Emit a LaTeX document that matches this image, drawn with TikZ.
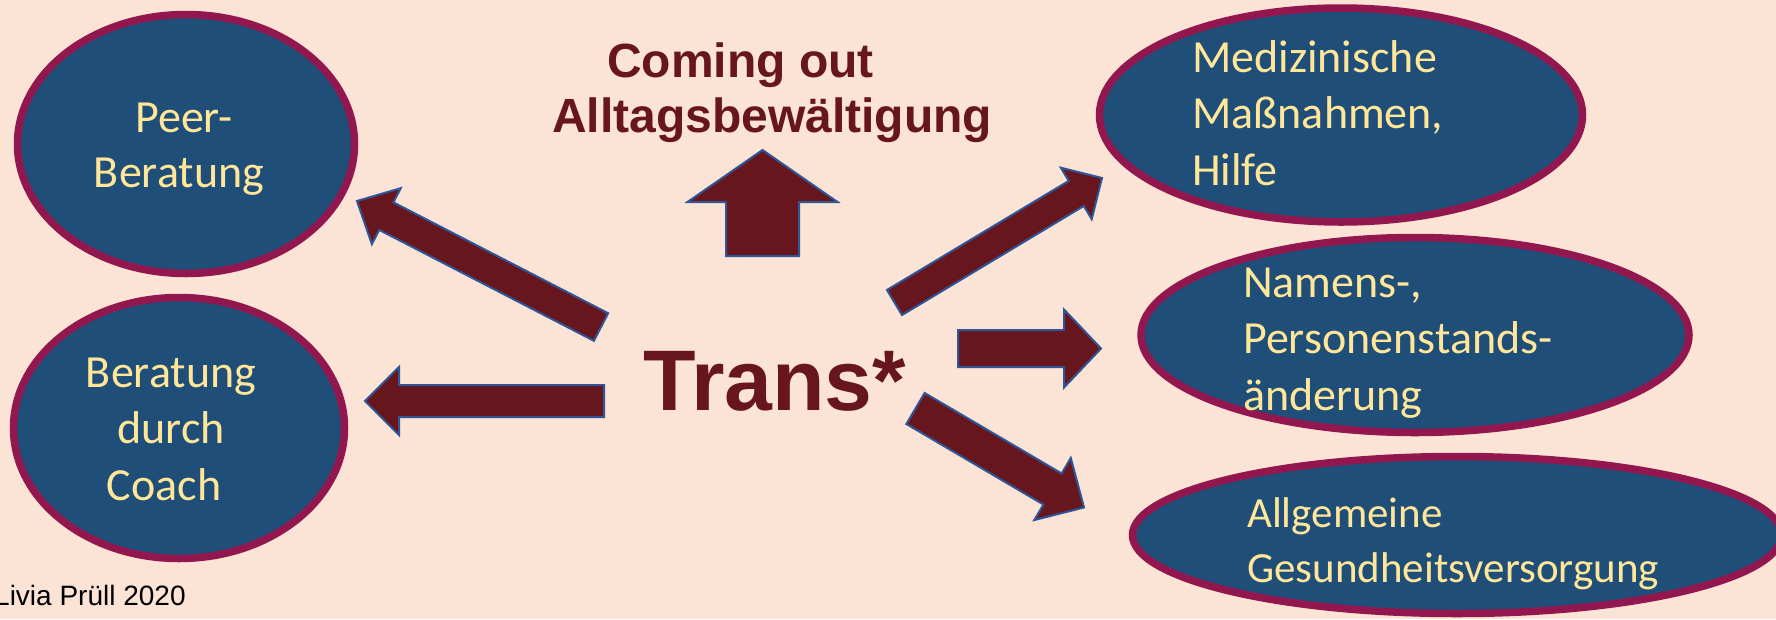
\documentclass[tikz,border=0pt]{standalone}
\usepackage{fontspec}
\setmainfont{Carlito}
\newfontfamily\arialfont{Liberation Sans}
\usetikzlibrary{shapes.geometric,calc}
\definecolor{bgpeach}{HTML}{FBE3D5}
\definecolor{bubfill}{HTML}{1F4E79}
\definecolor{bubborder}{HTML}{93174F}
\definecolor{bubtextcol}{HTML}{FFE699}
\definecolor{maroon}{HTML}{66161C}
\definecolor{arrline}{HTML}{2F5597}
\tikzset{
  bubble/.style={ellipse, draw=bubborder, line width=7.5pt, fill=bubfill, inner sep=0pt},
  bubtext/.style={font=\fontsize{46}{56}\selectfont, text=bubtextcol, inner sep=0pt},
  smalltext/.style={font=\fontsize{43}{55}\selectfont, text=bubtextcol, inner sep=0pt},
  titletext/.style={font=\arialfont\bfseries\fontsize{48}{55}\selectfont, text=maroon, inner sep=0pt, anchor=base west},
  blkarrow/.style={fill=maroon, draw=arrline, line width=2pt, line join=miter}
}
\newcommand{\blkarrow}[6]{% name, tail, tip, shaft half width, head half width, head length
  \coordinate (#1-t) at #2;
  \coordinate (#1-p) at #3;
  \coordinate (#1-h) at ($(#1-p)!#6pt!(#1-t)$);
  \path[blkarrow] ($(#1-t)!#4pt!90:(#1-p)$) -- ($(#1-h)!#4pt!90:(#1-p)$) -- ($(#1-h)!#5pt!90:(#1-p)$)
     -- (#1-p) -- ($(#1-h)!#5pt!-90:(#1-p)$) -- ($(#1-h)!#4pt!-90:(#1-p)$) -- ($(#1-t)!#4pt!-90:(#1-p)$) -- cycle;
}
\begin{document}
\begin{tikzpicture}[x=1pt,y=-1pt]
\fill[bgpeach] (0,0) rectangle (1776,619);
\useasboundingbox (0,0) rectangle (1776,619);

% ellipses
\node[bubble, minimum width=337pt, minimum height=259pt] (peer) at (186,144) {};
\node[bubble, minimum width=331pt, minimum height=261pt] (coach) at (179,428) {};
\node[bubble, minimum width=483pt, minimum height=214pt] (med) at (1341,115) {};
\node[bubble, minimum width=548pt, minimum height=195pt] (namen) at (1415,335) {};
\node[bubble, minimum width=649pt, minimum height=157pt] (allg) at (1457,535) {};

% ellipse texts
\node[bubtext, anchor=base] (peer1) at (184,132) {Peer-};
\node[bubtext, anchor=base] (peer2) at (179,187) {Beratung};
\node[bubtext, anchor=base] (coach1) at (171,387) {Beratung};
\node[bubtext, anchor=base] (coach2) at (171,443) {durch};
\node[bubtext, anchor=base] (coach3) at (164,500) {Coach};
\node[bubtext, anchor=base west] (med1) at (1192,72) {Medizinische};
\node[bubtext, anchor=base west] (med2) at (1192,128) {Maßnahmen,};
\node[bubtext, anchor=base west] (med3) at (1192,185) {Hilfe};
\node[bubtext, anchor=base west] (nam1) at (1243,297) {Namens-,};
\node[bubtext, anchor=base west] (nam2) at (1243,353) {Personenstands-};
\node[bubtext, anchor=base west] (nam3) at (1243,410) {änderung};
\node[smalltext, anchor=base west] (allg1) at (1247,527) {Allgemeine};
\node[smalltext, anchor=base west] (allg2) at (1247,582) {Gesundheitsversorgung};

% titles
\node[titletext] (come) at (607,77) {Coming out};
\node[titletext] (alltag) at (552,132) {Alltagsbewältigung};
\node[font=\arialfont\bfseries\fontsize{86}{90}\selectfont, text=maroon, inner sep=0pt, anchor=base west] (trans) at (643,410) {Trans*};
\node[font=\arialfont\fontsize{28}{32}\selectfont, text=black, inner sep=0pt, anchor=base west] (author) at (-6,605) {Livia Prüll 2020};

% block arrows
\blkarrow{a1}{(601,327)}{(357,201)}{15.5}{31.5}{33}
\blkarrow{a2}{(604,401)}{(365,401)}{16}{34}{34}
\blkarrow{a3}{(762.5,256)}{(762.5,150)}{36.5}{75}{52}
\blkarrow{a4}{(894.5,302.5)}{(1102,178)}{14.6}{30}{30}
\blkarrow{a5}{(958,348.5)}{(1101,348.5)}{18.5}{39}{37}
\blkarrow{a6}{(915.5,408.5)}{(1084,507.5)}{18}{36}{36.5}
\end{tikzpicture}
\end{document}
